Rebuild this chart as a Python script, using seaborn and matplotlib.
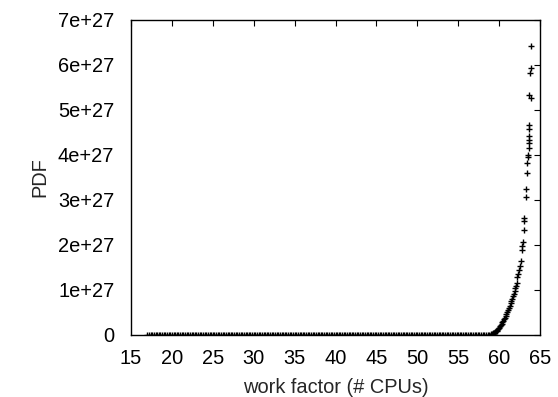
import numpy as np
import pandas as pd
import matplotlib
matplotlib.use("Agg")
import matplotlib.pyplot as plt
import seaborn as sns
from matplotlib.ticker import FixedLocator, FuncFormatter

sns.set_style("white")
plt.rcParams['font.family'] = ['Liberation Sans', 'DejaVu Sans']

# Flat region (PDF ~ 0)
flat_cpus = [17.0, 17.2, 17.4, 17.6, 17.8, 18.0, 18.2, 18.4, 18.6, 18.8, 19.0, 19.2, 19.4,
             19.6, 19.8, 20.0, 20.2, 20.4, 20.6, 20.8, 21.0, 21.2, 21.4, 21.6, 21.8, 22.0,
             22.2, 22.4, 22.6, 22.8, 23.0, 23.2, 23.4, 23.6, 23.8, 24.0, 24.2, 24.4, 24.6,
             24.8, 25.0, 25.2, 25.4, 25.6, 25.8, 26.0, 26.2, 26.4, 26.6, 26.8, 27.0, 27.2,
             27.4, 27.6, 27.8, 28.0, 28.2, 28.4, 28.6, 28.8, 29.0, 29.2, 29.4, 29.6, 29.8,
             30.0, 30.2, 30.4, 30.6, 30.8, 31.0, 31.2, 31.4, 31.6, 31.8, 32.0, 32.2, 32.4,
             32.6, 32.8, 33.0, 33.2, 33.4, 33.6, 33.8, 34.0, 34.2, 34.4, 34.6, 34.8, 35.0,
             35.2, 35.4, 35.6, 35.8, 36.0, 36.2, 36.4, 36.6, 36.8, 37.0, 37.2, 37.4, 37.6,
             37.8, 38.0, 38.2, 38.4, 38.6, 38.8, 39.0, 39.2, 39.4, 39.6, 39.8, 40.0, 40.2,
             40.4, 40.6, 40.8, 41.0, 41.2, 41.4, 41.6, 41.8, 42.0, 42.2, 42.4, 42.6, 42.8,
             43.0, 43.2, 43.4, 43.6, 43.8, 44.0, 44.2, 44.4, 44.6, 44.8, 45.0, 45.2, 45.4,
             45.6, 45.8, 46.0, 46.2, 46.4, 46.6, 46.8, 47.0, 47.2, 47.4, 47.6, 47.8, 48.0,
             48.2, 48.4, 48.6, 48.8, 49.0, 49.2, 49.4, 49.6, 49.8, 50.0, 50.2, 50.4, 50.6,
             50.8, 51.0, 51.2, 51.4, 51.6, 51.8, 52.0, 52.2, 52.4, 52.6, 52.8, 53.0, 53.2,
             53.4, 53.6, 53.8, 54.0, 54.2, 54.4, 54.6, 54.8, 55.0, 55.2, 55.4, 55.6, 55.8,
             56.0, 56.2, 56.4, 56.6, 56.8, 57.0, 57.2, 57.4, 57.6, 57.8, 58.0, 58.2, 58.4,
             58.6]
flat_pdf = [0.0] * len(flat_cpus)

# Rising tail (values in units of 1e27)
tail_cpus = [58.8, 59.0, 59.1, 59.2, 59.3, 59.4, 59.5, 59.6, 59.7, 59.8, 59.9, 60.0, 60.1,
             60.2, 60.3, 60.4, 60.5, 60.6, 60.7, 60.8, 60.9, 61.0, 61.1, 61.2, 61.3, 61.4,
             61.5, 61.6, 61.7, 61.8, 61.9, 62.0, 62.05, 62.15, 62.2, 62.3, 62.4, 62.55, 62.7,
             62.8, 62.86, 62.9, 63.0, 63.05, 63.05, 63.25, 63.25, 63.37, 63.45, 63.5, 63.5,
             63.6, 63.65, 63.6, 63.6, 63.7, 63.7, 63.85, 63.7, 63.78, 63.9, 63.9]
tail_pdf = [0.01, 0.02, 0.025, 0.03, 0.04, 0.05, 0.065, 0.08, 0.09, 0.11, 0.13, 0.16, 0.19,
            0.22, 0.25, 0.28, 0.31, 0.35, 0.38, 0.42, 0.46, 0.50, 0.55, 0.60, 0.65, 0.70,
            0.75, 0.80, 0.86, 0.92, 0.97, 1.04, 1.08, 1.16, 1.29, 1.36, 1.44, 1.53, 1.64,
            1.89, 1.98, 2.07, 2.33, 2.52, 2.60, 3.07, 3.24, 3.60, 3.82, 3.96, 4.00,
            4.16, 4.27, 4.33, 4.42, 4.56, 4.67, 5.26, 5.33, 5.82, 5.93, 6.41]

x_ticks = [15, 20, 25, 30, 35, 40, 45, 50, 55, 60, 65]
y_ticks = [0, 1, 2, 3, 4, 5, 6, 7]
y_tick_labels = ["0", "1e+27", "2e+27", "3e+27", "4e+27", "5e+27", "6e+27", "7e+27"]

df = pd.DataFrame({
    "cpus": flat_cpus + tail_cpus,
    "pdf": [v * 1e27 for v in flat_pdf + tail_pdf],
})

fig = plt.figure(figsize=(5.58, 3.97), dpi=100)
ax = fig.add_axes([131 / 558, 62 / 397, 409 / 558, 315.5 / 397])

sns.scatterplot(data=df, x="cpus", y="pdf", marker="+", color="black",
                s=14, linewidth=1.0, ax=ax, legend=False)

ax.set_xlim(15, 65)
ax.set_ylim(0, 7e27)
ax.xaxis.set_major_locator(FixedLocator(x_ticks))
ax.yaxis.set_major_locator(FixedLocator([v * 1e27 for v in y_ticks]))
ax.yaxis.set_major_formatter(FuncFormatter(lambda v, p: y_tick_labels[int(round(v / 1e27))]))
ax.tick_params(direction="in", length=4, width=0.8, top=True, right=True,
               labelsize=14.4, colors="black")
ax.tick_params(axis="x", pad=10)
ax.tick_params(axis="y", pad=12)
for s in ax.spines.values():
    s.set_color("black")
    s.set_linewidth(1.0)
ax.set_xlabel("work factor (# CPUs)", fontsize=14.4, labelpad=7.5)
ax.set_ylabel("PDF", fontsize=14.4, labelpad=6.5)
ax.set_facecolor("white")

fig.savefig("out.png", dpi=100, facecolor="white")
